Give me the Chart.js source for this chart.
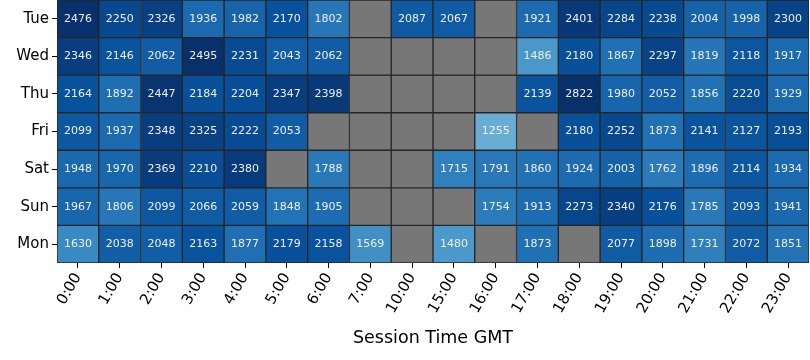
<!DOCTYPE html>
<html>
<head>
<meta charset="utf-8">
<script src="https://cdn.jsdelivr.net/npm/chart.js@4"></script>
<style>
  html, body { margin: 0; padding: 0; background: #fff; }
  #wrap { width: 810px; height: 360px; }
</style>
</head>
<body>
<div id="wrap"><canvas id="heat"></canvas></div>
<script>
const horas = ['0:00','1:00','2:00','3:00','4:00','5:00','6:00','7:00','10:00','15:00','16:00','17:00','18:00','19:00','20:00','21:00','22:00','23:00'];
const dias = ['Tue','Wed','Thu','Fri','Sat','Sun','Mon'];

const tue = [2476,2250,2326,1936,1982,2170,1802,null,2087,2067,null,1921,2401,2284,2238,2004,1998,2300];
const wed = [2346,2146,2062,2495,2231,2043,2062,null,null,null,null,1486,2180,1867,2297,1819,2118,1917];
const thu = [2164,1892,2447,2184,2204,2347,2398,null,null,null,null,2139,2822,1980,2052,1856,2220,1929];
const fri = [2099,1937,2348,2325,2222,2053,null,null,null,null,1255,null,2180,2252,1873,2141,2127,2193];
const sat = [1948,1970,2369,2210,2380,null,1788,null,null,1715,1791,1860,1924,2003,1762,1896,2114,1934];
const sun = [1967,1806,2099,2066,2059,1848,1905,null,null,null,1754,1913,2273,2340,2176,1785,2093,1941];
const mon = [1630,2038,2048,2163,1877,2179,2158,1569,null,1480,null,1873,null,2077,1898,1731,2072,1851];

const linhas = [tue, wed, thu, fri, sat, sun, mon];

// escala "Blues"
const blues = ['#f7fbff','#deebf7','#c6dbef','#9ecae1','#6baed6','#4292c6','#2171b5','#08519c','#08306b'];
const vmin = 0, vmax = 2480;

function hex(c) {
  return [parseInt(c.slice(1,3),16), parseInt(c.slice(3,5),16), parseInt(c.slice(5,7),16)];
}

function corDe(v) {
  if (v === null) return '#777777';
  let t = (v - vmin) / (vmax - vmin);
  t = Math.max(0, Math.min(1, t));
  const pos = t * (blues.length - 1);
  const i = Math.min(Math.floor(pos), blues.length - 2);
  const f = pos - i;
  const a = hex(blues[i]), b = hex(blues[i + 1]);
  const r = a.map((x, k) => Math.round(x + (b[k] - x) * f));
  return `rgb(${r[0]},${r[1]},${r[2]})`;
}

const datasets = linhas.map((vals, d) => ({
  label: dias[d],
  data: vals.map(() => [d, d + 1]),
  valores: vals,
  backgroundColor: vals.map(corDe),
  borderColor: '#262626',
  borderWidth: 1,
  borderSkipped: false,
  barPercentage: 1,
  categoryPercentage: 1,
  grouped: false
}));

// escreve os valores nas celulas
const rotulos = {
  id: 'rotulos',
  afterDatasetsDraw(chart) {
    const ctx = chart.ctx;
    ctx.save();
    ctx.font = '11px "DejaVu Sans"';
    ctx.fillStyle = '#eeeeee';
    ctx.textAlign = 'center';
    ctx.textBaseline = 'middle';
    chart.data.datasets.forEach((ds, i) => {
      const meta = chart.getDatasetMeta(i);
      meta.data.forEach((el, j) => {
        const v = ds.valores[j];
        if (v === null) return;
        ctx.fillText(String(v), el.x, (el.y + el.base) / 2);
      });
    });
    ctx.restore();
  }
};

function semPadding(s) {
  s.paddingTop = 0;
  s.paddingBottom = 0;
  s.paddingLeft = 0;
  s.paddingRight = 0;
}

new Chart(document.getElementById('heat'), {
  type: 'bar',
  data: { labels: horas, datasets: datasets },
  plugins: [rotulos],
  options: {
    responsive: true,
    maintainAspectRatio: false,
    animation: false,
    layout: { padding: { top: 0, right: 1, left: 0, bottom: 0 } },
    plugins: {
      legend: { display: false },
      tooltip: { enabled: false }
    },
    scales: {
      x: {
        offset: true,
        grid: { display: true, drawOnChartArea: false, offset: false, tickLength: 5, color: '#000' },
        border: { display: false },
        ticks: {
          minRotation: 60,
          maxRotation: 60,
          color: '#000',
          padding: 2,
          font: { family: 'DejaVu Sans', size: 15 }
        },
        title: {
          display: true,
          text: 'Session Time GMT',
          color: '#000',
          padding: { top: 10, bottom: 11 },
          font: { family: 'DejaVu Sans', size: 17.5 }
        },
        afterFit: (s) => { s.height = 97; semPadding(s); }
      },
      y: {
        type: 'linear',
        min: 0,
        max: 7,
        reverse: true,
        grid: { display: true, drawOnChartArea: false, tickLength: 5, color: '#000' },
        border: { display: false },
        afterBuildTicks: (s) => { s.ticks = dias.map((_, i) => ({ value: i + 0.5 })); },
        ticks: {
          color: '#000',
          padding: 3,
          font: { family: 'DejaVu Sans', size: 15 },
          callback: (v) => dias[Math.floor(v)]
        },
        afterFit: (s) => { s.width = 57; semPadding(s); }
      }
    }
  }
});
</script>
</body>
</html>
